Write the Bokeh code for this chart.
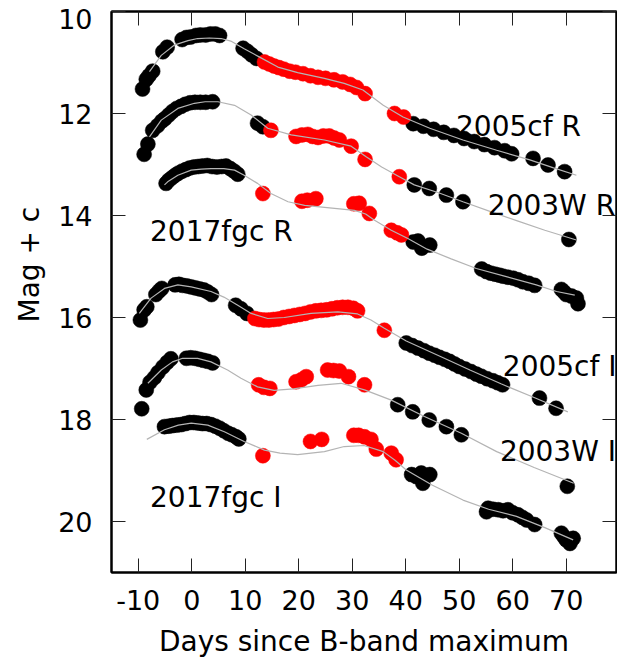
import math
from bokeh.plotting import figure
from bokeh.models import Range1d, LinearAxis, FixedTicker, Title, ColumnDataSource
from bokeh.embed import file_html
from bokeh.resources import INLINE
from bokeh.core.properties import value

FONT = "DejaVu Sans"

# ---------------- data (days since B max, magnitude + offset) ----------------
# 2005cf R
cf05R_blk_x = [-9.2, -8.5, -8.0, -7.3, -5.4, -4.6, -1.8, -1.0, -0.2, 0.8, 1.6, 2.6, 3.5, 4.4, 5.2,
               9.6, 10.4, 11.2, 12.1,
               41.4, 43.3, 45.2, 47.1, 49.0, 50.9, 52.8, 54.7, 56.6, 58.5, 59.8, 63.8, 66.6, 69.7]
cf05R_blk_y = [11.52, 11.33, 11.26, 11.17, 10.79, 10.70, 10.55, 10.51, 10.50, 10.47, 10.46, 10.46, 10.44, 10.44, 10.47,
               10.72, 10.78, 10.85, 10.92,
               12.20, 12.25, 12.31, 12.37, 12.43, 12.49, 12.55, 12.61, 12.67, 12.73, 12.79, 12.88, 13.01, 13.14]
cf05R_red_x = [13.6, 14.5, 15.4, 16.3, 17.2, 18.3, 19.4, 20.8, 22.2, 23.6, 25.0, 26.6, 28.2, 29.6, 30.8, 32.4, 37.9, 39.6]
cf05R_red_y = [10.99, 11.03, 11.07, 11.10, 11.13, 11.17, 11.19, 11.22, 11.26, 11.29, 11.31, 11.34, 11.38, 11.43, 11.49, 11.61, 12.00, 12.07]
cf05R_fit_x = [-7.9, -5.7, -3.3, -0.7, 1.1, 3.3, 5.5, 7.3, 9.8, 12.6, 16.1, 19.8, 24.8, 28.5, 32.0, 35.8, 39.5, 44.5, 50.7, 57.0, 63.2, 67.5, 71.9]
cf05R_fit_y = [11.18, 10.86, 10.66, 10.57, 10.53, 10.52, 10.53, 10.58, 10.73, 10.89, 11.09, 11.20, 11.31, 11.41, 11.54, 11.84, 12.07, 12.29, 12.52, 12.72, 12.91, 13.06, 13.21]

# 2003W R
w03R_blk_x = [-8.9, -8.2, -7.3, -6.4, -5.6, -5.0, -4.3, -3.6, -2.8, -2.0, -1.2, -0.3, 0.6, 1.6, 2.6, 3.9,
              12.3, 13.3, 41.6, 44.4, 47.6, 50.7, 70.5]
w03R_blk_y = [12.80, 12.60, 12.33, 12.24, 12.15, 12.10, 12.03, 11.96, 11.90, 11.86, 11.82, 11.79, 11.78, 11.78, 11.78, 11.77,
              12.19, 12.26, 13.40, 13.47, 13.60, 13.73, 14.47]
w03R_red_x = [14.8, 19.5, 20.6, 21.7, 22.6, 23.6, 24.6, 25.7, 26.6, 27.6, 29.8, 32.4, 38.8]
w03R_red_y = [12.33, 12.45, 12.42, 12.41, 12.45, 12.47, 12.44, 12.44, 12.48, 12.52, 12.64, 12.90, 13.24]
w03R_fit_x = [-7.9, -5.7, -2.6, 0.5, 2.5, 4.9, 8.0, 11.1, 14.2, 18.6, 24.8, 29.8, 32.6, 35.5, 38.8, 41.6, 46.0, 50.7, 56.0, 61.0, 66.0, 71.9]
w03R_fit_y = [12.46, 12.13, 11.90, 11.80, 11.77, 11.77, 11.84, 12.03, 12.29, 12.42, 12.52, 12.64, 12.85, 13.05, 13.24, 13.40, 13.55, 13.73, 13.93, 14.11, 14.29, 14.48]

# 2017fgc R
fgcR_blk_x = [-4.8, -4.3, -3.7, -3.1, -2.5, -1.8, -1.1, -0.4, 0.4, 1.2, 2.0, 2.9, 3.8, 4.7, 5.6, 6.4, 7.2, 7.9, 8.6,
              41.4, 42.3, 43.0, 44.5, 54.2, 55.1, 55.9, 56.7, 57.5, 58.2, 59.1, 60.1, 61.0, 61.9, 63.0, 64.1,
              69.1, 69.6, 70.0, 71.0, 71.9, 72.2]
fgcR_blk_y = [13.37, 13.31, 13.26, 13.21, 13.17, 13.13, 13.10, 13.07, 13.05, 13.04, 13.03, 13.02, 13.04, 13.05, 13.04, 13.03, 13.08, 13.13, 13.19,
              14.52, 14.50, 14.64, 14.58, 15.05, 15.10, 15.13, 15.15, 15.17, 15.19, 15.21, 15.23, 15.26, 15.30, 15.33, 15.37,
              15.45, 15.50, 15.55, 15.58, 15.62, 15.73]
fgcR_red_x = [13.3, 20.6, 21.6, 23.2, 30.3, 31.3, 33.2, 37.3, 38.4, 39.2]
fgcR_red_y = [13.57, 13.72, 13.70, 13.67, 13.77, 13.76, 13.96, 14.29, 14.34, 14.38]
fgcR_fit_x = [-5.1, -4.5, -2.6, -0.1, 1.8, 3.6, 6.0, 8.0, 9.8, 12.3, 14.8, 18.0, 21.1, 26.7, 30.4, 32.5, 34.1, 37.3, 40.4, 44.0, 48.5, 53.2, 58.8, 64.4, 68.2, 71.6]
fgcR_fit_y = [13.40, 13.34, 13.21, 13.11, 13.09, 13.08, 13.08, 13.11, 13.21, 13.37, 13.57, 13.73, 13.80, 13.86, 13.90, 13.97, 14.09, 14.29, 14.45, 14.66, 14.85, 15.04, 15.20, 15.36, 15.49, 15.56]

# 2005cf I
cf05I_blk_x = [-9.6, -8.9, -8.4, -6.7, -6.1, -5.6, -3.1, -2.4, -1.7, -0.9, -0.1, 0.7, 1.5, 2.3, 3.0, 3.7,
               8.2, 9.2, 10.3,
               40.1, 41.2, 42.3, 43.4, 44.4, 45.4, 46.3, 47.3, 48.2, 49.1, 50.0, 51.1, 52.2, 53.2, 54.1, 55.2, 56.3, 57.2, 58.1, 65.0, 68.1]
cf05I_blk_y = [16.05, 15.85, 15.79, 15.55, 15.48, 15.43, 15.36, 15.35, 15.37, 15.38, 15.40, 15.42, 15.44, 15.46, 15.50, 15.55,
               15.76, 15.83, 15.92,
               16.50, 16.55, 16.60, 16.65, 16.70, 16.74, 16.78, 16.82, 16.86, 16.91, 16.96, 17.01, 17.06, 17.11, 17.15, 17.20, 17.24, 17.28, 17.32, 17.58, 17.78]
cf05I_red_x = [11.8, 12.6, 13.5, 14.4, 15.3, 16.2, 17.2, 18.2, 19.2, 20.2, 21.2, 22.2, 23.2, 24.2, 25.2, 26.2, 27.2, 28.2, 29.2, 30.2, 31.0, 36.0]
cf05I_red_y = [16.02, 16.04, 16.05, 16.05, 16.04, 16.03, 16.00, 15.98, 15.96, 15.94, 15.92, 15.89, 15.87, 15.86, 15.85, 15.83, 15.81, 15.80, 15.80, 15.82, 15.87, 16.25]
cf05I_fit_x = [-9.8, -7.6, -5.1, -2.6, -0.1, 3.6, 6.0, 8.6, 11.1, 14.2, 17.3, 22.3, 27.3, 31.0, 33.5, 36.0, 40.1, 46.6, 52.0, 57.8, 64.0, 70.3]
cf05I_fit_y = [15.92, 15.62, 15.43, 15.36, 15.40, 15.49, 15.60, 15.76, 15.92, 16.02, 16.00, 15.92, 15.89, 15.93, 16.05, 16.21, 16.46, 16.77, 17.03, 17.30, 17.57, 17.85]

# 2003W I
w03I_blk_x = [-9.35, -8.5, -7.8, -7.0, -6.3, -5.4, -4.6, -3.9, -1.0, -0.2, 0.6, 1.4, 2.2, 3.0, 3.9,
              38.5, 41.3, 44.4, 47.6, 50.4, 70.2]
w03I_blk_y = [17.79, 17.42, 17.27, 17.18, 17.08, 16.97, 16.88, 16.81, 16.80, 16.79, 16.80, 16.82, 16.84, 16.86, 16.89,
              17.71, 17.85, 18.01, 18.14, 18.30, 19.31]
w03I_red_x = [12.5, 13.5, 14.6, 19.5, 20.5, 21.4, 25.4, 26.5, 27.6, 29.3, 32.3]
w03I_red_y = [17.32, 17.37, 17.39, 17.26, 17.22, 17.16, 17.03, 17.04, 17.05, 17.16, 17.32]
w03I_fit_x = [-8.2, -5.7, -3.6, -1.7, 1.1, 3.6, 6.7, 9.2, 12.3, 15.4, 19.0, 23.6, 27.9, 32.3, 37.3, 43.5, 50.4, 57.0, 64.0, 71.4]
w03I_fit_y = [17.29, 17.03, 16.87, 16.80, 16.80, 16.87, 17.03, 17.19, 17.36, 17.43, 17.40, 17.33, 17.29, 17.42, 17.62, 17.94, 18.27, 18.63, 18.94, 19.25]

# 2017fgc I
fgcI_blk_x = [-5.1, -4.3, -3.6, -2.8, -2.0, -1.2, -0.4, 0.4, 1.2, 2.0, 2.8, 3.6, 4.4, 5.2, 6.0, 6.8, 7.5, 8.3, 8.8,
              41.1, 42.0, 42.9, 43.2, 44.5, 55.1, 55.4, 56.3, 57.3, 58.2, 59.1, 60.0, 61.0, 61.8, 62.6, 64.1,
              69.1, 69.6, 70.0, 70.7, 71.3]
fgcI_blk_y = [18.14, 18.13, 18.12, 18.11, 18.10, 18.08, 18.06, 18.06, 18.07, 18.08, 18.08, 18.10, 18.13, 18.17, 18.22, 18.27, 18.30, 18.34, 18.38,
              19.08, 19.12, 19.05, 19.25, 19.08, 19.81, 19.74, 19.76, 19.77, 19.79, 19.77, 19.83, 19.87, 19.92, 19.97, 20.06,
              20.23, 20.30, 20.36, 20.43, 20.33]
fgcI_red_x = [13.3, 22.2, 24.3, 30.3, 31.2, 32.3, 33.5, 34.5, 37.3, 38.2]
fgcI_red_y = [18.71, 18.43, 18.39, 18.31, 18.31, 18.34, 18.39, 18.58, 18.66, 18.79]
fgcI_fit_x = [-8.4, -5.1, -2.5, -0.1, 3.0, 6.1, 9.8, 13.6, 16.5, 19.8, 24.8, 28.5, 32.2, 35.8, 38.0, 40.1, 45.0, 50.7, 55.5, 60.7, 66.0, 71.3]
fgcI_fit_y = [18.39, 18.20, 18.11, 18.07, 18.11, 18.24, 18.43, 18.60, 18.66, 18.69, 18.63, 18.53, 18.51, 18.63, 18.80, 18.99, 19.29, 19.58, 19.76, 19.90, 20.12, 20.36]

label_text = ["2005cf R", "2003W R", "2017fgc R", "2005cf I", "2003W I", "2017fgc I"]
label_x = [49.4, 55.35, -7.8, 58.15, 57.6, -7.8]
label_y = [12.26, 13.80, 14.31, 16.97, 18.63, 19.52]

x_ticks = [-10, 0, 10, 20, 30, 40, 50, 60, 70]
y_ticks = [10, 12, 14, 16, 18, 20]
y_tick_labels = ["10", "12", "14", "16", "18", "20"]
# label anchor for the top value sits slightly below its tick, as in the original
y_label_pos = [10.14, 12, 14, 16, 18, 20]

# ---------------- figure ----------------
p = figure(width=617, height=661, output_backend="svg", toolbar_location=None,
           x_range=Range1d(-15, 79.4), y_range=Range1d(21, 10),
           min_border_left=111, min_border_right=1, min_border_top=11, min_border_bottom=89)
p.background_fill_color = "white"
p.border_fill_color = "white"
p.outline_line_color = "black"
p.outline_line_width = 2
p.grid.visible = False


def tick_only(ax, ticks):
    ax.ticker = FixedTicker(ticks=ticks)
    ax.major_tick_in = 14
    ax.major_tick_out = 0
    ax.minor_tick_line_color = None
    ax.major_tick_line_color = "#222222"
    ax.major_tick_line_width = 1
    ax.axis_line_color = "black"
    ax.axis_line_width = 2
    ax.major_label_overrides = {t: "" for t in ticks}
    ax.major_label_text_font_size = "1px"
    ax.major_label_standoff = 0


# x axis below: ticks and labels
xa = p.xaxis[0]
xa.ticker = FixedTicker(ticks=x_ticks)
xa.major_tick_in = 14
xa.major_tick_out = 0
xa.minor_tick_line_color = None
xa.major_tick_line_color = "#222222"
xa.axis_line_color = "black"
xa.axis_line_width = 2
xa.major_label_text_font = FONT
xa.major_label_text_font_size = "27px"
xa.major_label_text_color = "black"
xa.major_label_standoff = 17
xa.major_label_overrides = {t: str(t) for t in x_ticks}
xa.axis_label = "Days since B-band maximum"
xa.axis_label_text_font = FONT
xa.axis_label_text_font_size = "28px"
xa.axis_label_text_font_style = "normal"
xa.axis_label_text_color = "black"
xa.axis_label_standoff = 12

# y axis on the left: inner axis draws the ticks, outer axis carries the labels
tick_only(p.yaxis[0], y_ticks)
ylab = LinearAxis(ticker=FixedTicker(ticks=y_label_pos))
ylab.major_label_overrides = {v: t for v, t in zip(y_label_pos, y_tick_labels)}
ylab.axis_line_color = None
ylab.major_tick_line_color = None
ylab.minor_tick_line_color = None
ylab.major_tick_in = 0
ylab.major_tick_out = 0
ylab.major_label_standoff = 19
ylab.major_label_text_font = FONT
ylab.major_label_text_font_size = "27px"
ylab.major_label_text_color = "black"
p.add_layout(ylab, "left")

top_ax = LinearAxis()
tick_only(top_ax, x_ticks)
p.add_layout(top_ax, "above")
right_ax = LinearAxis()
tick_only(right_ax, y_ticks)
p.add_layout(right_ax, "right")

ytitle = Title(text="Mag + c", align="left", offset=250, vertical_align="top",
               text_font=FONT, text_font_size="28px", text_font_style="normal",
               text_color="black", standoff=16)
p.add_layout(ytitle, "left")

SIZE = 15
sets = [
    (cf05R_blk_x, cf05R_blk_y, cf05R_red_x, cf05R_red_y, cf05R_fit_x, cf05R_fit_y),
    (w03R_blk_x, w03R_blk_y, w03R_red_x, w03R_red_y, w03R_fit_x, w03R_fit_y),
    (fgcR_blk_x, fgcR_blk_y, fgcR_red_x, fgcR_red_y, fgcR_fit_x, fgcR_fit_y),
    (cf05I_blk_x, cf05I_blk_y, cf05I_red_x, cf05I_red_y, cf05I_fit_x, cf05I_fit_y),
    (w03I_blk_x, w03I_blk_y, w03I_red_x, w03I_red_y, w03I_fit_x, w03I_fit_y),
    (fgcI_blk_x, fgcI_blk_y, fgcI_red_x, fgcI_red_y, fgcI_fit_x, fgcI_fit_y),
]
for bx, by, rx, ry, fx, fy in sets:
    p.scatter(bx, by, size=SIZE, marker="circle", fill_color="black", line_color="black", line_width=0.5)
    p.scatter(rx, ry, size=SIZE, marker="circle", fill_color="#ff0000", line_color="#ff0000", line_width=0.5)
for bx, by, rx, ry, fx, fy in sets:
    p.line(fx, fy, line_color="#b4b4b4", line_width=1.2)

src = ColumnDataSource(dict(x=label_x, y=label_y, t=label_text))
p.text(x="x", y="y", text="t", source=src, text_font=value(FONT), text_font_size="28px",
       text_align="left", text_baseline="alphabetic", text_color="black")

open("out.html", "w").write(file_html(p, INLINE))
